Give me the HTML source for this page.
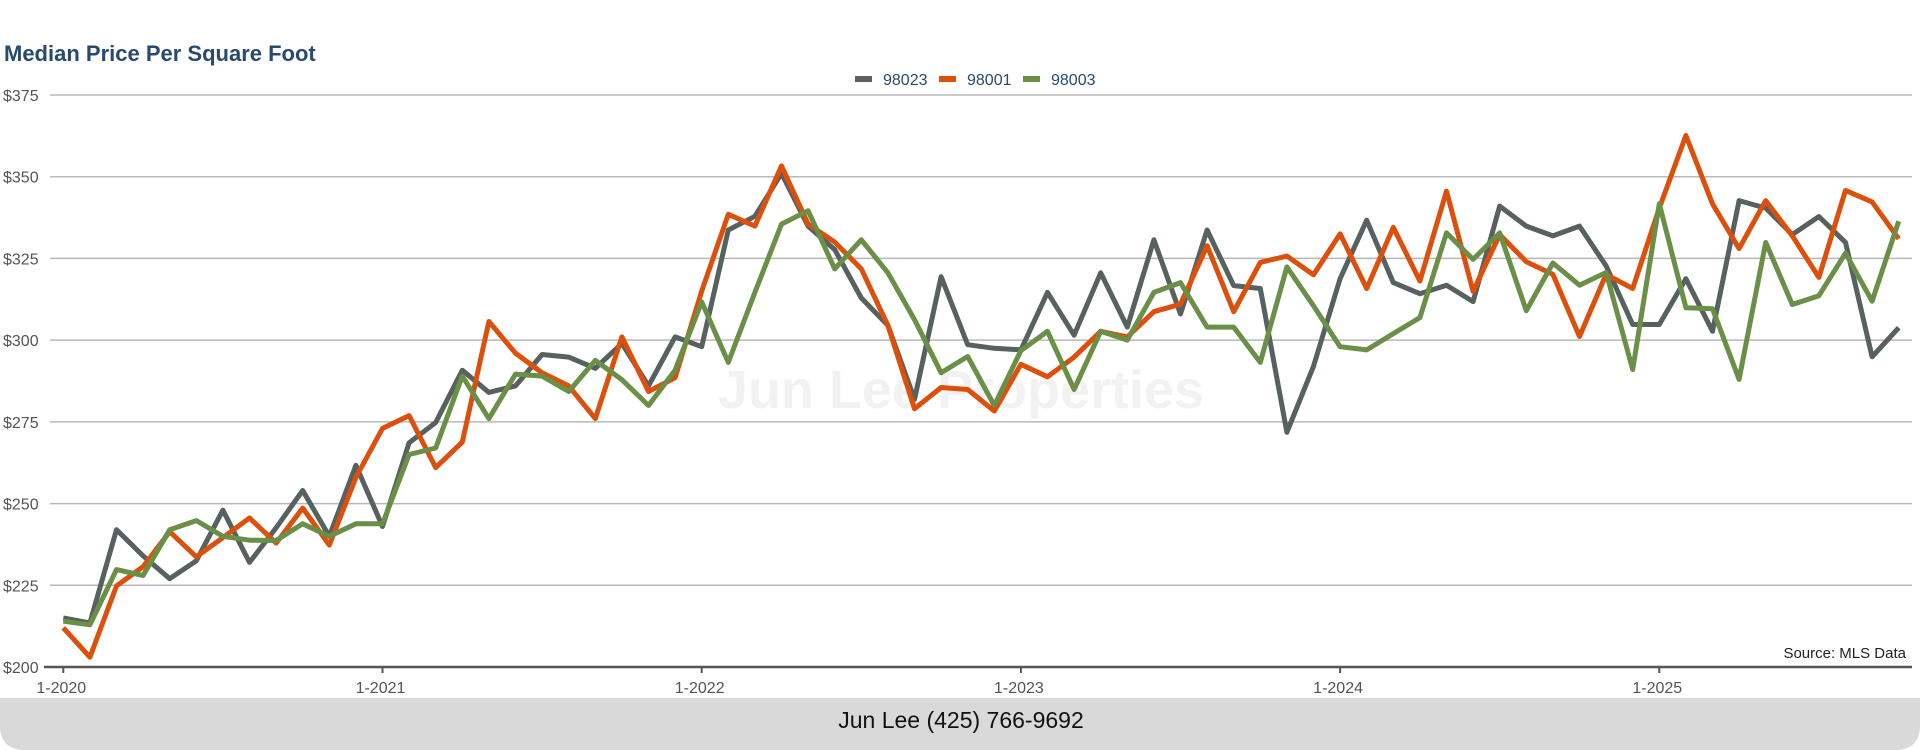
<!DOCTYPE html>
<html><head><meta charset="utf-8">
<style>
body{margin:0;width:1920px;height:750px;background:#fff;overflow:hidden;font-family:"Liberation Sans Narrow","Liberation Sans",sans-serif;}
svg{display:block}
</style></head>
<body>
<svg id="chart" width="1920" height="750" xmlns="http://www.w3.org/2000/svg">
<path d="M0,698 H1920 V725 Q1920,750 1895,750 H25 Q0,750 0,725 Z" fill="#d9d9d9"/>
<text x="961" y="728" text-anchor="middle" font-family="Liberation Sans, sans-serif" font-size="23" fill="#111">Jun Lee (425) 766-9692</text>
<text x="4" y="61" font-family="Liberation Sans Narrow, Liberation Sans, sans-serif" font-weight="bold" font-size="22" fill="#274a6e">Median Price Per Square Foot</text>
<text x="961" y="408" text-anchor="middle" font-family="Liberation Sans, sans-serif" font-weight="bold" font-size="54" fill="#f2f2f2">Jun Lee Properties</text>
<g id="grid"></g><g id="lines"></g><g id="legend"></g>
<text x="1906" y="658" text-anchor="end" font-family="Liberation Sans, sans-serif" font-size="15" fill="#222">Source: MLS Data</text>
</svg>
<script>
const months = Array.from({length:70},(_, i)=>i);
const yTicks = [200,225,250,275,300,325,350,375];
const xTickLabels = ["1-2020","1-2021","1-2022","1-2023","1-2024","1-2025"];
const seriesNames = ["98023","98001","98003"];
const s98023 = [215,213.5,242,234,227,232.5,248,232,242.6,254,240,261.7,243,268.6,274.8,290.8,284,286,295.6,294.8,291.4,299,286,301,298,333.7,337.9,351,334.9,327.7,312.9,304.5,281.9,319.4,298.6,297.5,297,314.6,301.5,320.6,304,330.7,308,333.7,316.7,315.8,271.8,292,318.8,336.7,317.6,314.2,316.8,311.8,341,334.9,331.9,334.9,322.7,304.8,304.8,318.8,302.7,342.7,340.4,332.3,337.8,329.9,294.9,303.8];
const s98001 = [212,203,224.8,230.7,241.4,233.7,239.6,245.6,237.9,248.6,237.3,258,273,276.9,261,268.8,305.7,296,290,286,276,301,284.3,288.5,315,338.5,334.9,353.3,335.5,330,321.8,304.5,279,285.5,284.9,278.3,292.6,288.8,294.8,302.7,301,308.7,311,328.9,308.7,323.8,325.7,320,332.5,315.8,334.5,318.1,345.6,314.9,332.3,324,320.1,301.1,320.1,315.8,340.4,362.6,341.7,328,342.7,331.9,319.2,345.8,342.3,331];
const s98003 = [214,212.9,229.8,228,242,244.8,240,238.8,238.7,243.8,240,243.8,243.8,265,267,289,276,289.6,289,284.3,293.8,287.9,280,290.8,311.7,293.2,314.6,335.5,339.6,321.8,330.7,320.6,306.3,290,295,280,296.8,302.7,284.9,302.7,300,314.6,317.6,304,304,293.2,322.4,310.5,298,297,302,306.9,332.8,324.7,332.8,309,323.6,316.8,320.7,291,341.7,309.9,309.6,288,329.9,310.9,313.6,326.6,311.9,336.4];
const colors = ["#566160","#dc500c","#6a8f47"];
const X0=63.3, MW=26.6, Y200=667, PER=(667-95)/175;
const xs = m => X0 + m*MW;
const ys = v => Y200 - (v-200)*PER;
const NS="http://www.w3.org/2000/svg";
const grid=document.getElementById('grid'), lines=document.getElementById('lines'), legend=document.getElementById('legend');
function mk(tag,attrs,parent){const e=document.createElementNS(NS,tag);for(const k in attrs)e.setAttribute(k,attrs[k]);parent.appendChild(e);return e;}
yTicks.forEach(v=>{
  if(v>200){const l=mk('line',{x1:50,x2:1912,y1:ys(v),y2:ys(v),stroke:'#b8b8b8','stroke-width':1.5},grid);
  
  }
  const t=mk('text',{x:3,y:ys(v)+6,'font-size':16,fill:'#555'},grid);
  t.textContent='$'+v;
  
  
});
const ax=mk('line',{x1:44,x2:1912,y1:Y200,y2:Y200,stroke:'#555','stroke-width':2.5},grid);


xTickLabels.forEach((lab,i)=>{
  const x=xs(i*12);
  mk('line',{x1:x,x2:x,y1:Y200,y2:Y200+6,stroke:'#555','stroke-width':2},grid);
  const t=mk('text',{x:x-2,y:Y200+26,'text-anchor':'middle','font-size':16,fill:'#555','font-family':'Liberation Sans, sans-serif'},grid);
  t.textContent=lab;
  
  
});
[s98023,s98001,s98003].forEach((s,i)=>{
  const p=mk('polyline',{points:s.map((v,m)=>xs(months[m]).toFixed(1)+','+ys(v).toFixed(1)).join(' '),fill:'none',stroke:colors[i],'stroke-width':5,'stroke-linejoin':'round'},lines);
  
  
});
let lx=855;
seriesNames.forEach((n,i)=>{
  const g=mk('g',{},legend);
  
  
  mk('rect',{x:lx,y:76,width:17,height:6,fill:colors[i]},g);
  const t=mk('text',{x:lx+28,y:85,'font-size':16,fill:'#274a6e'},g);
  t.textContent=n;
  lx+=84;
});
</script>
</body></html>
